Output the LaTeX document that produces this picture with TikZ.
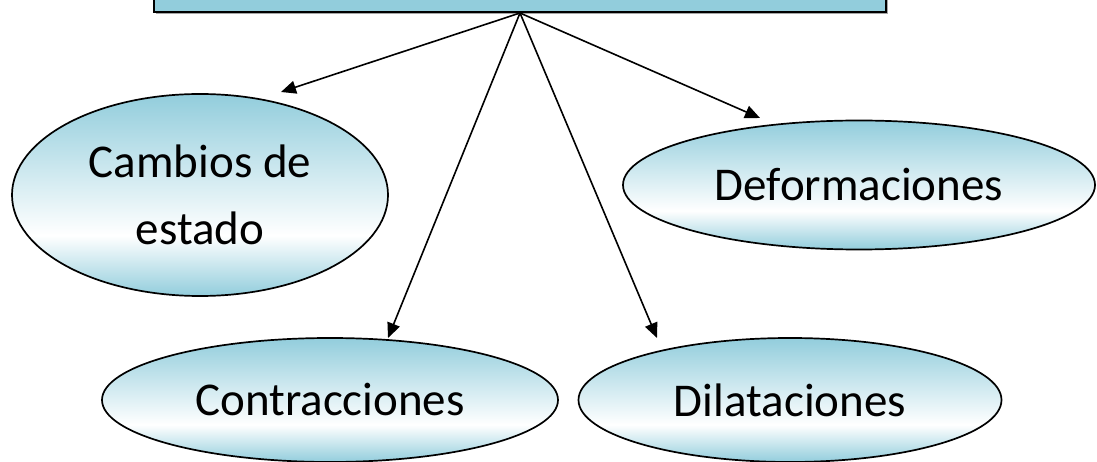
\documentclass[tikz,border=0pt]{standalone}
\usepackage{fontspec}
\setmainfont{Carlito}
\usetikzlibrary{arrows.meta,shapes.geometric,shadows}
\definecolor{lb}{RGB}{146,205,220}
\pgfdeclareverticalshading{ellgrad}{100bp}{color(0bp)=(lb); color(25bp)=(lb); color(40bp)=(white); color(75bp)=(lb); color(100bp)=(lb)}
\begin{document}
\begin{tikzpicture}[x=1pt,y=-1pt,
  bubble/.style={ellipse, draw=black, line width=1.7pt, shading=ellgrad, inner sep=0pt, align=center, font=\fontsize{47}{67}\selectfont},
  topbox/.style={rectangle, draw=black, line width=1.8pt, fill=lb, inner sep=0pt,
    drop shadow={shadow xshift=2pt, shadow yshift=-2pt, fill=gray, opacity=0.7}},
  arr/.style={line width=1.6pt, -{Triangle[length=15pt,width=13pt]}}]
\clip (0,0) rectangle (1097,462);
\node[topbox, minimum width=732pt, minimum height=60pt, anchor=south] (top) at (520,13) {};
\node[bubble, minimum width=376pt, minimum height=202pt] (cambios) at (200,195) {Cambios de\\estado};
\node[bubble, minimum width=472pt, minimum height=129pt] (deform) at (859,185) {Deformaciones};
\node[bubble, minimum width=456pt, minimum height=124pt] (contr) at (330,400) {Contracciones};
\node[bubble, minimum width=423pt, minimum height=124pt] (dilat) at (790,400) {Dilataciones};
\coordinate (tipA) at (281,92);
\coordinate (tipB) at (388,338);
\coordinate (tipC) at (657,338);
\coordinate (tipD) at (760,118);
\draw[arr] (top.south) -- (tipA);
\draw[arr] (top.south) -- (tipB);
\draw[arr] (top.south) -- (tipC);
\draw[arr] (top.south) -- (tipD);
\end{tikzpicture}
\end{document}
